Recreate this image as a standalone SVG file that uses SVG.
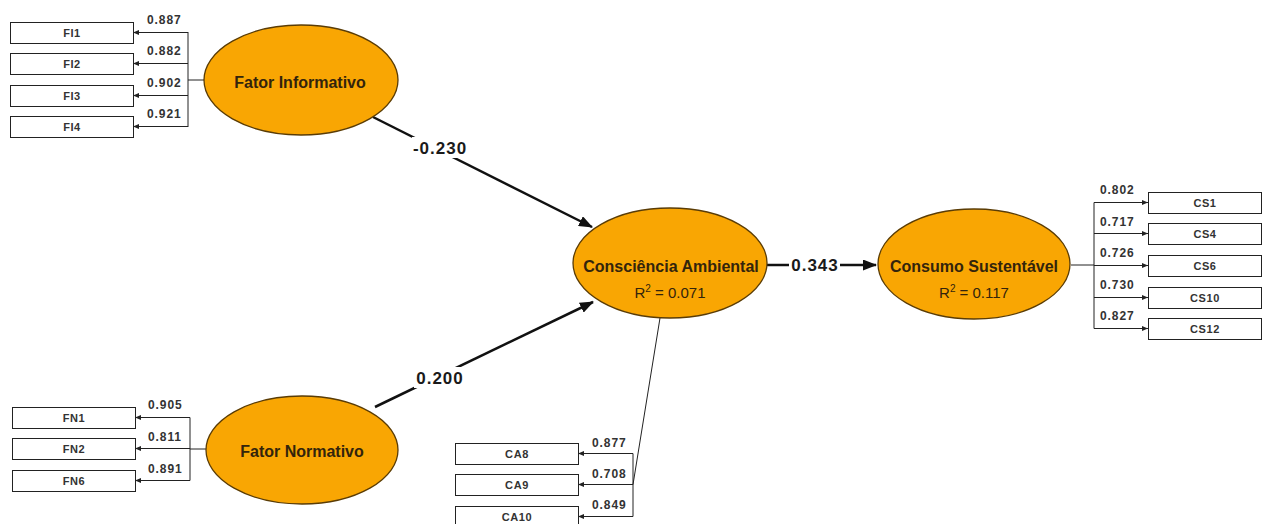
<svg xmlns="http://www.w3.org/2000/svg" width="1262" height="524" viewBox="0 0 1262 524">
<style>
.lv{fill:#F9A603;stroke:#5a3c05;stroke-width:1.3}
.lt{font-family:"Liberation Sans",Arial,sans-serif;font-weight:bold;font-size:16px;fill:#33240c;text-anchor:middle}
.r2{font-family:"Liberation Sans",Arial,sans-serif;font-size:15px;fill:#33240c;text-anchor:middle}
.bx{fill:#fff;stroke:#222;stroke-width:1}
.bt{font-family:"Liberation Sans",Arial,sans-serif;font-weight:bold;font-size:11px;fill:#333;text-anchor:middle;letter-spacing:0.6px}
.ld{font-family:"Liberation Sans",Arial,sans-serif;font-weight:bold;font-size:12px;fill:#333;letter-spacing:0.9px}
.pc{font-family:"Liberation Sans",Arial,sans-serif;font-weight:bold;font-size:17px;fill:#1a1a1a;text-anchor:middle;letter-spacing:1px}
.m{fill:none;stroke:#222;stroke-width:1}
.ma{fill:none;stroke:#222;stroke-width:1;marker-end:url(#a)}
.s{fill:none;stroke:#111;stroke-width:2.5;marker-end:url(#A)}
</style>
<defs>
<marker id="a" markerUnits="userSpaceOnUse" markerWidth="6" markerHeight="5" refX="6" refY="2.5" orient="auto"><path d="M0,0L6,2.5L0,5z" fill="#222"/></marker>
<marker id="A" markerUnits="userSpaceOnUse" markerWidth="14" markerHeight="11" refX="13" refY="5.5" orient="auto"><path d="M0,0L14,5.5L0,11z" fill="#111"/></marker>
</defs>
<rect width="1262" height="524" fill="#fff"/>
<g id="connectors">
<path class="m" d="M205,80H188M188,32V127"/>
<path class="ma" d="M188,32.5H133"/>
<path class="ma" d="M188,63.5H133"/>
<path class="ma" d="M188,95.5H133"/>
<path class="ma" d="M188,126.5H133"/>
<path class="m" d="M206,449H190M190,417.5V480.5"/>
<path class="ma" d="M190,417.5H135"/>
<path class="ma" d="M190,448.5H135"/>
<path class="ma" d="M190,480.5H135"/>
<path class="m" d="M660,318L633,484.5M633,453.5V516.5"/>
<path class="ma" d="M633,453.5H578"/>
<path class="ma" d="M633,484.5H578"/>
<path class="ma" d="M633,516.5H578"/>
<path class="m" d="M1071,265H1094M1094,202.5V328.5"/>
<path class="ma" d="M1094,202.5H1148"/>
<path class="ma" d="M1094,233.5H1148"/>
<path class="ma" d="M1094,265.5H1148"/>
<path class="ma" d="M1094,297.5H1148"/>
<path class="ma" d="M1094,328.5H1148"/>
<path class="s" d="M373,117L592,227"/>
<path class="s" d="M375,407L593,302"/>
<path class="m" style="stroke-width:2.5;stroke:#111" d="M767,265H789"/>
<path class="s" d="M840,265H876"/>
<rect x="412" y="137" width="56" height="21" fill="#fff"/>
<text class="pc" x="440" y="154">-0.230</text>
<rect x="414" y="367" width="52" height="21" fill="#fff"/>
<text class="pc" x="440" y="384">0.200</text>
<text class="pc" x="815" y="271">0.343</text>
<text class="ld" x="147" y="24">0.887</text>
<text class="ld" x="147" y="55">0.882</text>
<text class="ld" x="147" y="87">0.902</text>
<text class="ld" x="147" y="118">0.921</text>
<text class="ld" x="148" y="409">0.905</text>
<text class="ld" x="148" y="441">0.811</text>
<text class="ld" x="148" y="473">0.891</text>
<text class="ld" x="592" y="447">0.877</text>
<text class="ld" x="592" y="478">0.708</text>
<text class="ld" x="592" y="509">0.849</text>
<text class="ld" x="1100" y="194">0.802</text>
<text class="ld" x="1100" y="226">0.717</text>
<text class="ld" x="1100" y="257">0.726</text>
<text class="ld" x="1100" y="289">0.730</text>
<text class="ld" x="1100" y="320">0.827</text>
</g>
<g id="fator-informativo"><ellipse class="lv" cx="301" cy="80" rx="97" ry="55"/><text class="lt" x="300" y="88">Fator Informativo</text></g>
<g id="fator-normativo"><ellipse class="lv" cx="302" cy="450" rx="96" ry="54"/><text class="lt" x="302" y="457">Fator Normativo</text></g>
<g id="consciencia-ambiental"><ellipse class="lv" cx="670" cy="263" rx="97" ry="55"/><text class="lt" x="671" y="272">Consciência Ambiental</text><text class="r2" x="670" y="298">R<tspan font-size="10" dy="-6">2</tspan><tspan dy="6"> = 0.071</tspan></text></g>
<g id="consumo-sustentavel"><ellipse class="lv" cx="974" cy="264" rx="96" ry="55"/><text class="lt" x="974" y="272">Consumo Sustentável</text><text class="r2" x="974" y="298">R<tspan font-size="10" dy="-6">2</tspan><tspan dy="6"> = 0.117</tspan></text></g>
<g id="FI1"><rect class="bx" x="10.5" y="22.5" width="123" height="21"/><text class="bt" x="72" y="37">FI1</text></g>
<g id="FI2"><rect class="bx" x="10.5" y="53.5" width="123" height="21"/><text class="bt" x="72" y="68">FI2</text></g>
<g id="FI3"><rect class="bx" x="10.5" y="85.5" width="123" height="21"/><text class="bt" x="72" y="100">FI3</text></g>
<g id="FI4"><rect class="bx" x="10.5" y="116.5" width="123" height="21"/><text class="bt" x="72" y="131">FI4</text></g>
<g id="FN1"><rect class="bx" x="12.5" y="407.5" width="123" height="21"/><text class="bt" x="74" y="422">FN1</text></g>
<g id="FN2"><rect class="bx" x="12.5" y="438.5" width="123" height="21"/><text class="bt" x="74" y="453">FN2</text></g>
<g id="FN6"><rect class="bx" x="12.5" y="470.5" width="123" height="21"/><text class="bt" x="74" y="485">FN6</text></g>
<g id="CA8"><rect class="bx" x="455.5" y="443.5" width="123" height="21"/><text class="bt" x="517" y="458">CA8</text></g>
<g id="CA9"><rect class="bx" x="455.5" y="474.5" width="123" height="21"/><text class="bt" x="517" y="489">CA9</text></g>
<g id="CA10"><rect class="bx" x="455.5" y="506.5" width="123" height="21"/><text class="bt" x="517" y="521">CA10</text></g>
<g id="CS1"><rect class="bx" x="1148.5" y="192.5" width="113" height="21"/><text class="bt" x="1205" y="207">CS1</text></g>
<g id="CS4"><rect class="bx" x="1148.5" y="223.5" width="113" height="21"/><text class="bt" x="1205" y="238">CS4</text></g>
<g id="CS6"><rect class="bx" x="1148.5" y="255.5" width="113" height="21"/><text class="bt" x="1205" y="270">CS6</text></g>
<g id="CS10"><rect class="bx" x="1148.5" y="287.5" width="113" height="21"/><text class="bt" x="1205" y="302">CS10</text></g>
<g id="CS12"><rect class="bx" x="1148.5" y="318.5" width="113" height="21"/><text class="bt" x="1205" y="333">CS12</text></g>
</svg>
